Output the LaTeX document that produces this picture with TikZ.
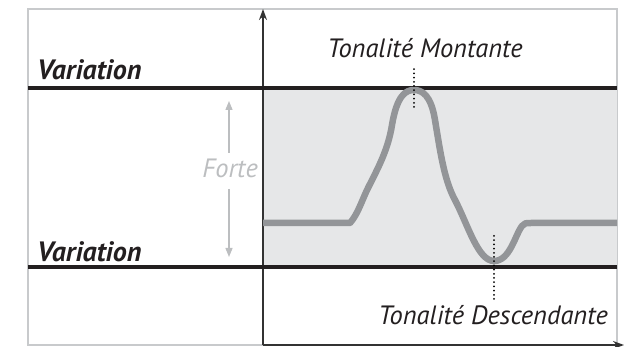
\documentclass[tikz,border=0pt]{standalone}
\usepackage{fontspec}
\setmainfont{PT Sans}
\usetikzlibrary{arrows.meta}
\definecolor{BandGray}{HTML}{E6E7E8}
\definecolor{CurveGray}{HTML}{939598}
\definecolor{ForteGray}{HTML}{BCBEC0}
\definecolor{FrameGray}{HTML}{C8CACC}
\definecolor{InkBlack}{HTML}{231F20}

\begin{document}
\begin{tikzpicture}[
        x=1pt, y=-1pt,
        font=\itshape\fontsize{26.5}{30}\selectfont,
        cadre/.style={line width=1.2pt, FrameGray},
        axe/.style={-{Stealth[length=11pt, width=8pt]}, line width=1.4pt, black!80},
        borne/.style={line width=4pt, InkBlack},
        courbe/.style={line width=6.5pt, CurveGray, line join=round},
        repere/.style={line width=2pt, line cap=round, dash pattern=on 0pt off 4.2pt, black},
        fleche/.style={-{Triangle[length=9pt, width=7pt]}, line width=1.4pt, ForteGray},
        lbl/.style={inner sep=0pt, text=InkBlack},
        boldlbl/.style={lbl, font=\bfseries\itshape\fontsize{28}{32}\selectfont},
      ]
        \useasboundingbox (0,0) rectangle (625,347);
        \def\Xo{263}\def\Xr{617}\def\Yt{88}\def\Yb{267}
        % ---- cadre ----
        \draw[cadre] (28,9) rectangle (\Xr,345);
        % ---- bande grise ----
        \fill[BandGray] (\Xo,\Yt) rectangle (\Xr,\Yb);
        % ---- axes ----
        \coordinate (O) at (\Xo,345);
        \coordinate (ytip) at (\Xo,9);
        \coordinate (xtip) at (624,345);
        \draw[axe] (O) -- (ytip);
        \draw[axe] (O) -- (xtip);
        % ---- limites de variation ----
        \coordinate (hl) at (28,\Yt); \coordinate (hr) at (\Xr,\Yt);
        \coordinate (bl) at (28,\Yb); \coordinate (br) at (\Xr,\Yb);
        \draw[borne] (hl) -- (hr);
        \draw[borne] (bl) -- (br);
        \node[boldlbl, anchor=base west] (vhaut) at (37,80) {Variation};
        \node[boldlbl, anchor=base west] (vbas) at (37,262) {Variation};
        % ---- courbe de tonalite ----
        \draw[courbe] (\Xo,223) -- (350,223)
          .. controls (358,214) and (362,200) .. (368,188)
          .. controls (378,168) and (388,150) .. (392,125)
          .. controls (397,95) and (406,90) .. (414,90)
          .. controls (422,90) and (431,95) .. (435,120)
          .. controls (440,150) and (444,180) .. (455,200)
          .. controls (468,225) and (478,261) .. (494,261)
          .. controls (510,261) and (515,235) .. (522,226)
          .. controls (524,223) and (526,223) .. (531,223)
          -- (\Xr,223);
        % ---- reperes pointilles ----
        \coordinate (pic) at (414,107); \coordinate (creux) at (494,236);
        \node[lbl, anchor=base] (montante) at (425,58) {Tonalité Montante};
        \node[lbl, anchor=base east] (descendante) at (608,325) {Tonalité Descendante};
        \draw[repere] (pic) -- (414,66);
        \draw[repere] (creux) -- (494,299);
        % ---- forte ----
        \node[lbl, text=ForteGray, anchor=base east] (forte) at (258,178) {Forte};
        \coordinate (fh) at (229,101); \coordinate (fb) at (229,257);
        \draw[fleche] (229,153) -- (fh);
        \draw[fleche] (229,189) -- (fb);
      \end{tikzpicture}
\end{document}
